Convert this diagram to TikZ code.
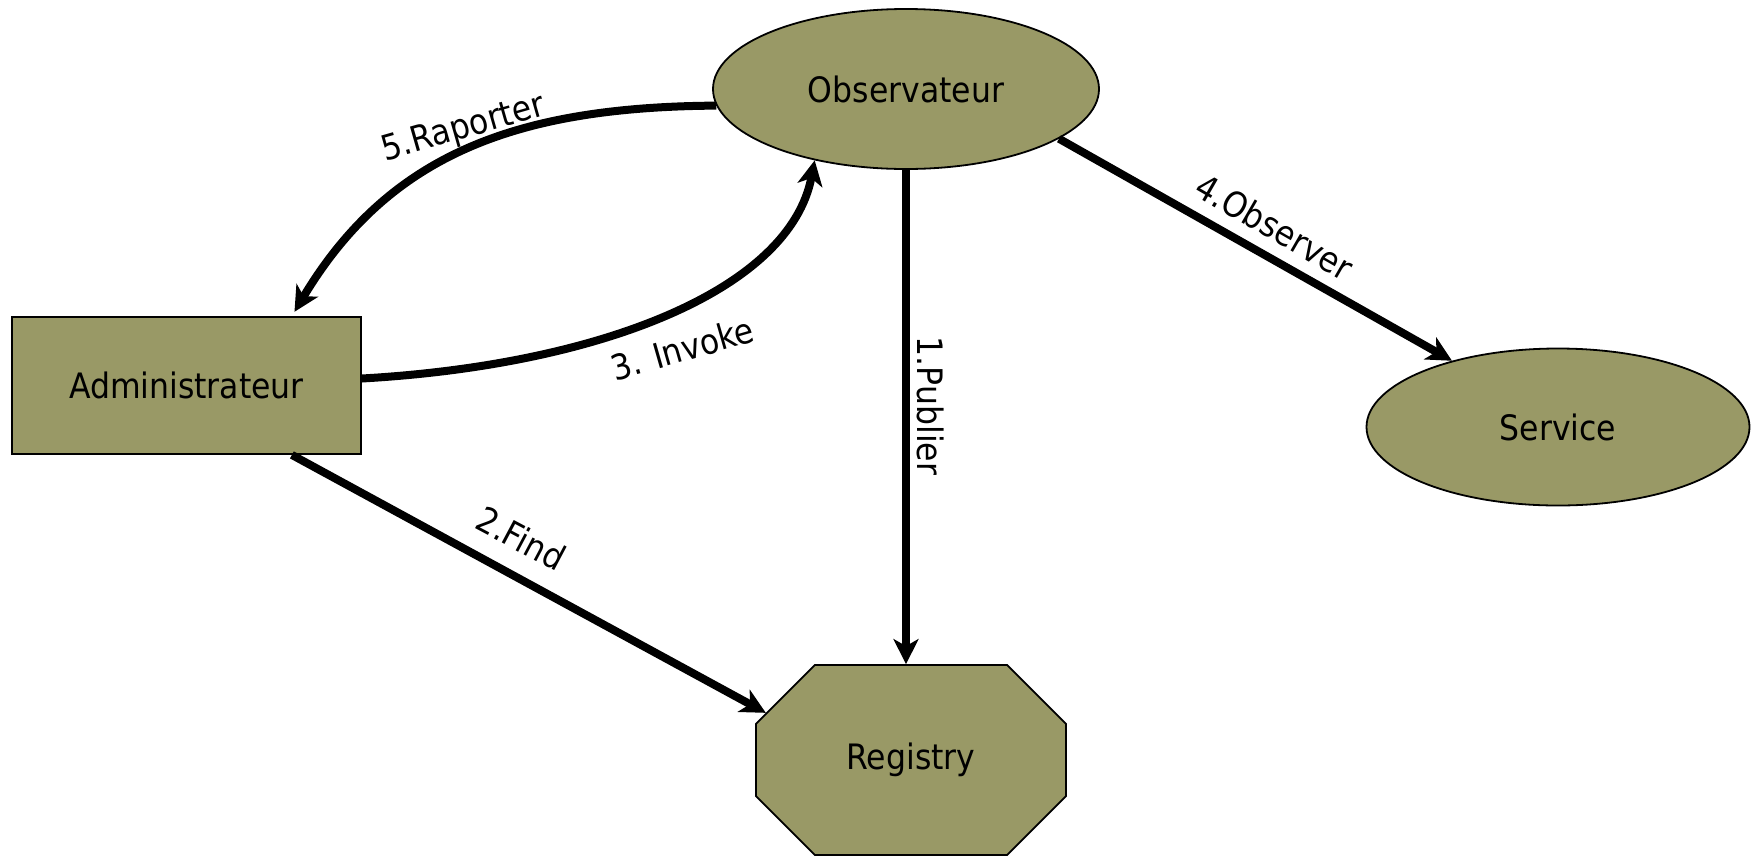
\documentclass[tikz,border=0pt]{standalone}
\usepackage{fontspec}
\setmainfont{DejaVu Sans Condensed}
\usetikzlibrary{arrows.meta,shapes.geometric,shapes.misc}
\definecolor{boxolive}{RGB}{153,153,102}
\begin{document}
\begin{tikzpicture}[x=1pt,y=-1pt,
  every node/.style={font=\fontsize{35}{40}\selectfont},
  entity/.style={draw=black, line width=1.8pt, fill=boxolive, inner sep=0pt},
  actor/.style={entity, ellipse},
  box/.style={entity, rectangle},
  octobox/.style={entity, chamfered rectangle,
    chamfered rectangle xsep=37pt, chamfered rectangle ysep=42pt},
  flow/.style={line width=8pt, -{Stealth[length=25pt,width=25pt,inset=7pt]}},
  lbl/.style={inner sep=0pt, anchor=base}]
  \useasboundingbox (0,0) rectangle (1754,855);

  % components
  \node[actor, minimum width=386pt, minimum height=160pt] (obs) at (906,89) {Observateur};
  \node[actor, minimum width=383pt, minimum height=157pt] (svc) at (1558,427) {Service};
  \node[box, minimum width=349pt, minimum height=137pt] (adm) at (186.5,385.5) {Administrateur};
  \node[octobox, minimum width=310pt, minimum height=190pt] (reg) at (911,760) {Registry};

  % interactions
  \draw[flow] (obs.south) -- (obs.south |- reg.north);
  \draw[flow] ([xshift=-70pt]adm.south east) -- (reg.162);
  \draw[flow] ([yshift=7pt]adm.east) .. controls (600,365) and (790,290) .. (obs.-142);
  \draw[flow] (obs.-18.5) -- (svc.148);
  \draw[flow, shorten >=5pt] (obs.185.5) .. controls (520,107) and (390,152) .. ([xshift=-70pt]adm.north east);

  % step labels
  \node[lbl, rotate=-90] (l1) at (917,406) {1.Publier};
  \node[lbl, rotate=-28] (l2) at (515,550) {2.Find};
  \node[lbl, rotate=16] (l3) at (686,361) {3. Invoke};
  \node[lbl, rotate=-30] (l4) at (1268,238) {4.Observer};
  \node[lbl, rotate=16] (l5) at (466,138) {5.Raporter};
\end{tikzpicture}
\end{document}
